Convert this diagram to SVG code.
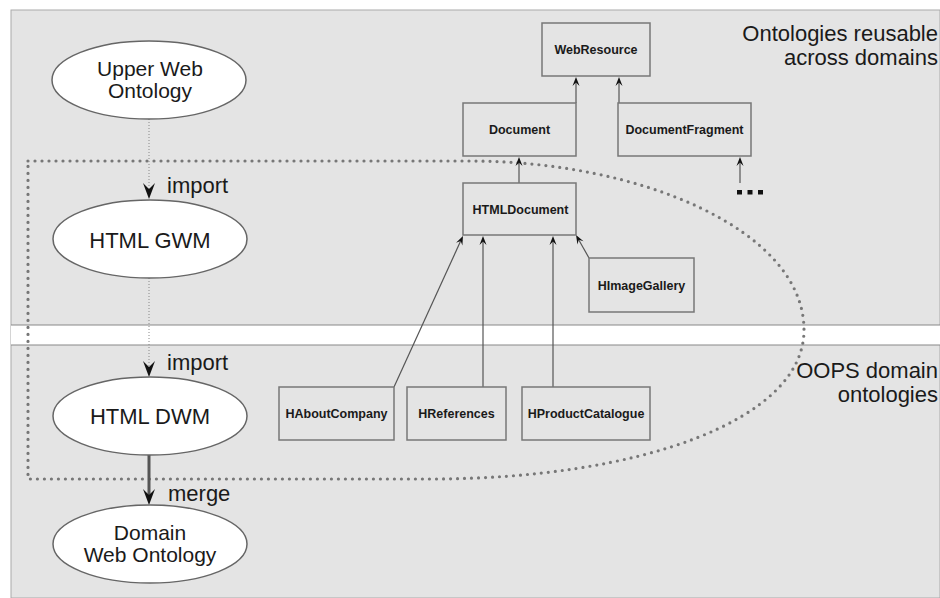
<svg xmlns="http://www.w3.org/2000/svg" width="940" height="598" viewBox="0 0 940 598">
<style>
text{font-family:"Liberation Sans",Arial,sans-serif;fill:#1a1a1a}
.big{font-size:22px}
.two{font-size:21px}
.lbl{font-size:12.5px;font-weight:bold;text-anchor:middle}
.ell{fill:#fff;stroke:#666;stroke-width:1.5}
.box{fill:#e4e4e4;stroke:#777;stroke-width:1.5}
.dot{fill:none;stroke:#888;stroke-width:1;stroke-dasharray:1 2}
.sub{fill:none;stroke:#555;stroke-width:1.2}
</style>
<defs>
<marker id="ah" markerUnits="userSpaceOnUse" viewBox="-10 -7 18 14" refX="0" refY="0" markerWidth="18" markerHeight="14" orient="auto">
<path d="M7,0 L-9,-6 L-3,0 L-9,6 Z" fill="#111"/>
</marker>
<marker id="as" markerUnits="userSpaceOnUse" viewBox="-6 -4 11 8" refX="0" refY="0" markerWidth="11" markerHeight="8" orient="auto">
<path d="M4,0 L-5,-3.5 L-1.5,0 L-5,3.5 Z" fill="#111"/>
</marker>
</defs>
<rect x="0" y="0" width="940" height="598" fill="#fff"/>
<rect x="11" y="10" width="929" height="588" fill="#e4e4e4" stroke="#aaa" stroke-width="1"/>
<rect x="11" y="325" width="929" height="20" fill="#fff"/>
<line x1="11" y1="325" x2="940" y2="325" stroke="#888" stroke-width="1.2"/>
<line x1="11" y1="345" x2="940" y2="345" stroke="#888" stroke-width="1.2"/>

<path id="region" d="M28,161 H470 C640,161 804,230 804,330 C804,420 640,479 430,479 H28 Z" fill="none" stroke="#777" stroke-width="3.2" stroke-dasharray="0 7" stroke-linecap="round"/>

<text class="big" x="938" y="41" text-anchor="end">Ontologies reusable</text>
<text class="big" x="938" y="65" text-anchor="end">across domains</text>
<text class="big" x="938" y="378" text-anchor="end">OOPS domain</text>
<text class="big" x="938" y="402" text-anchor="end">ontologies</text>

<g id="connectors">
<line class="dot" x1="149" y1="119" x2="149" y2="192" marker-end="url(#ah)"/>
<line class="dot" x1="149" y1="278" x2="149" y2="370" marker-end="url(#ah)"/>
<line x1="149" y1="455" x2="149" y2="498" stroke="#555" stroke-width="3" marker-end="url(#ah)"/>
<text class="big" x="167" y="193">import</text>
<text class="big" x="167" y="370">import</text>
<text class="big" x="168" y="501">merge</text>
<line class="sub" x1="576" y1="103" x2="576" y2="81" marker-end="url(#as)"/>
<line class="sub" x1="619" y1="103" x2="619" y2="81" marker-end="url(#as)"/>
<line class="sub" x1="519" y1="183" x2="519" y2="161" marker-end="url(#as)"/>
<line class="sub" x1="740" y1="183" x2="740" y2="161" marker-end="url(#as)"/>
<line class="sub" x1="394" y1="387" x2="461.3" y2="239.6" marker-end="url(#as)"/>
<line class="sub" x1="483" y1="387" x2="483" y2="240" marker-end="url(#as)"/>
<line class="sub" x1="553" y1="387" x2="553" y2="240" marker-end="url(#as)"/>
<line class="sub" x1="589" y1="258" x2="578" y2="238.5" marker-end="url(#as)"/>
<g id="more" fill="#111">
<rect x="737" y="190" width="5" height="4.5"/>
<rect x="747.5" y="190" width="5" height="4.5"/>
<rect x="758" y="190" width="5" height="4.5"/>
</g>
</g>

<g id="upper-web-ontology">
<ellipse class="ell" cx="149" cy="80" rx="97" ry="39"/>
<text class="two" x="150" y="76" text-anchor="middle">Upper Web</text>
<text class="two" x="150" y="98" text-anchor="middle">Ontology</text>
</g>
<g id="html-gwm">
<ellipse class="ell" cx="150" cy="239" rx="97" ry="39"/>
<text class="big" x="150" y="248" text-anchor="middle">HTML GWM</text>
</g>
<g id="html-dwm">
<ellipse class="ell" cx="150" cy="416" rx="97" ry="39"/>
<text class="big" x="150" y="424" text-anchor="middle">HTML DWM</text>
</g>
<g id="domain-web-ontology">
<ellipse class="ell" cx="150" cy="544" rx="97" ry="39"/>
<text class="two" x="150" y="540" text-anchor="middle">Domain</text>
<text class="two" x="150" y="562" text-anchor="middle">Web Ontology</text>
</g>

<g id="WebResource"><rect class="box" x="542" y="23" width="108" height="53"/><text class="lbl" x="596" y="54">WebResource</text></g>
<g id="Document"><rect class="box" x="463" y="103" width="113" height="53"/><text class="lbl" x="519.5" y="134">Document</text></g>
<g id="DocumentFragment"><rect class="box" x="618" y="103" width="133" height="53"/><text class="lbl" x="684.5" y="134">DocumentFragment</text></g>
<g id="HTMLDocument"><rect class="box" x="463" y="183" width="113" height="52"/><text class="lbl" x="520.5" y="213.5">HTMLDocument</text></g>
<g id="HImageGallery"><rect class="box" x="589" y="258" width="105" height="54"/><text class="lbl" x="641.5" y="289.5">HImageGallery</text></g>
<g id="HAboutCompany"><rect class="box" x="279" y="387" width="115" height="53"/><text class="lbl" x="336.5" y="418">HAboutCompany</text></g>
<g id="HReferences"><rect class="box" x="407" y="387" width="99" height="53"/><text class="lbl" x="456.5" y="418">HReferences</text></g>
<g id="HProductCatalogue"><rect class="box" x="522" y="387" width="128" height="53"/><text class="lbl" x="586" y="418">HProductCatalogue</text></g>
</svg>
